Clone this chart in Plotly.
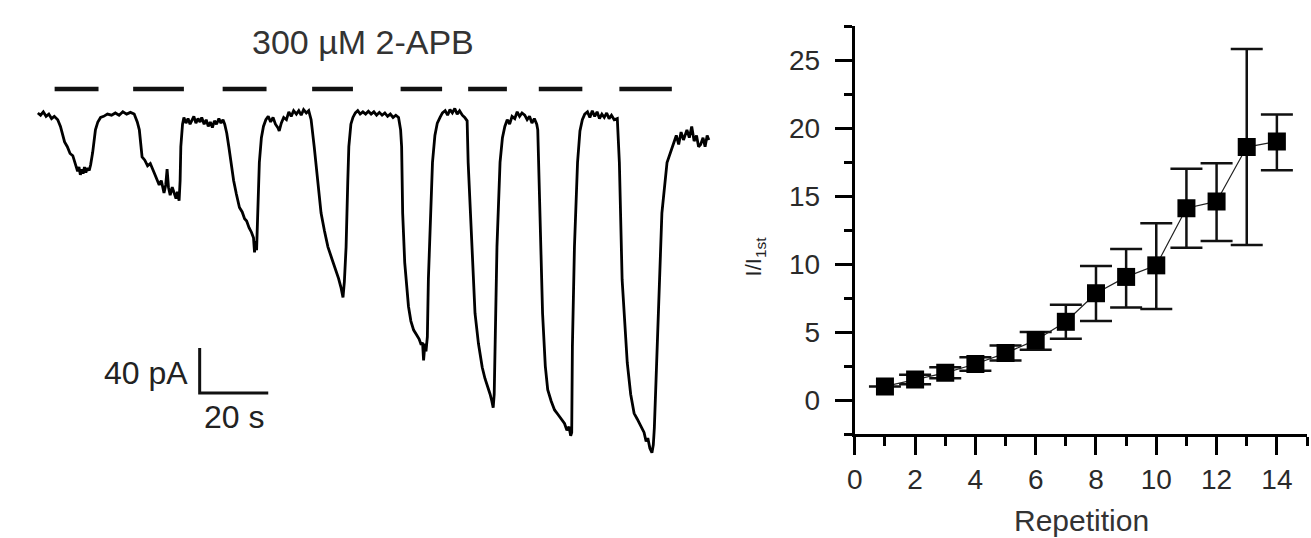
import plotly.graph_objects as go

# ---------------- Left panel: current trace (time in s, current in pA) ----------------
trace_t = [0, 0.8, 1.6, 2.4, 3.2, 4.0, 4.8, 5.8,
           6.6, 7.8, 8.6, 9.4, 10.2, 10.7, 11.2, 11.6, 12.0, 12.4, 12.8, 13.2, 13.6, 14.0, 14.5, 15.0, 15.4,
           16.0, 16.8, 17.5, 18.3, 19.2, 20.3, 21.5, 22.6, 23.7, 24.8, 25.9, 27.0, 28.1,
           29.0, 29.6, 30.4, 31.2, 32.0, 32.8, 33.9, 34.6, 35.4, 36.0, 36.8, 37.3, 37.7, 38.1, 38.6,
           39.2, 39.7, 40.3, 40.7, 41.2, 41.5, 41.7, 42.2, 42.6,
           43.2, 43.8, 44.4, 44.9, 45.5, 46.1, 46.7, 47.3, 47.8, 48.5, 49.1, 49.7, 50.3, 50.9, 51.5,
           52.1, 52.8, 53.4, 54.0, 54.5,
           55.1, 55.7, 57.1, 57.9, 58.8, 59.6, 60.3, 60.9, 61.6, 62.3, 62.9, 63.2, 63.5, 63.8, 64.1,
           64.6, 65.2, 65.8, 66.5, 67.2,
           67.9, 68.6, 69.3, 70.0, 70.4, 71.0, 71.7, 72.5, 73.2, 73.9, 74.6, 75.4, 76.1, 76.8, 77.5,
           78.3, 79.0, 79.7,
           80.6, 81.7, 82.6, 83.6, 84.6, 85.8, 87.0, 87.7, 88.4, 88.8, 89.0, 89.4, 89.9, 90.4, 90.7,
           91.3, 91.9,
           92.6, 93.3, 94.0, 94.8, 95.6, 96.4, 97.2, 98.0, 98.8, 99.6, 100.4, 101.2, 102.0, 102.8,
           103.6, 104.4, 105.2,
           105.8, 106.1, 106.4, 107.0, 108.1, 108.8, 109.6, 110.4, 111.2, 111.8, 112.2, 112.5, 112.9,
           113.2, 113.6, 113.9, 114.5, 115.1, 115.8, 116.5, 117.3, 118.0, 118.8,
           119.5, 120.2, 120.9, 121.6, 122.3, 123.0, 123.8, 124.5, 125.2,
           125.5, 126.7, 127.5, 128.5, 129.6, 130.4, 131.3, 131.9, 132.4, 132.8, 133.1, 133.3, 133.9,
           134.8, 135.5, 136.2, 136.9, 137.6, 138.3, 139.1, 139.8, 140.5, 141.2, 142.0, 142.7, 143.4,
           144.1, 144.8, 145.5,
           145.8, 146.4, 147.2, 148.0, 148.7, 149.7, 150.7, 151.7, 152.6, 153.6, 154.3, 154.9, 155.4,
           155.7, 155.9, 156.5, 157.4, 158.1, 158.8, 159.5, 160.3, 161.0, 161.7, 162.4, 163.1, 163.8,
           164.5, 165.2, 165.9, 166.6, 167.3, 168.1, 169.0,
           169.6, 170.4, 171.9, 172.9, 173.9, 174.8, 175.8, 176.8, 177.4, 177.9, 178.5, 179.1, 179.5,
           179.8, 180.3, 181.2, 182.0, 183.5, 184.5, 185.5, 186.2, 186.9, 187.6, 188.3, 189.3, 190.0,
           190.7, 191.4, 192.1, 192.7, 193.3, 194.0, 194.6, 195.2, 195.7]
trace_i = [0, -2, 1, -3, -1, -5, -3, -6,
           -12, -25.8, -30, -36, -38, -43, -47, -52, -48, -55, -50, -54, -48, -53, -49, -51, -46,
           -35, -15, -8, -4, -3, -1, -2, 0, -2, 1, -1, 0.5, -1,
           -8, -15, -39, -42, -47, -45, -53, -58, -64, -60, -71, -64, -50, -66, -73,
           -66, -70, -76, -70, -78, -60, -30, -10, -4,
           -9, -5, -10, -7, -3, -9, -5, -8, -4, -10, -6, -12, -8, -13, -7,
           -10, -5, -9, -6, -10,
           -18, -30, -60, -72, -84, -88, -94, -96, -102, -106, -111, -124, -114, -122, -89,
           -44, -22, -12, -6, -3,
           -8, -4, -10, -13, -16, -9, -4, -6, 1, -3, 2, -1, 2, -2, 3,
           0, 2, -6,
           -30, -60, -89, -105, -119, -130, -140, -147, -155, -160, -164, -150, -119, -60, -30,
           -10, -4,
           0, 2, -1, 1, -1, 1.5, -1, 1, -2, 0.5, -2, 0, -3, -1,
           -4, -2, -4,
           -15, -30, -89, -133, -172, -185, -193, -197, -201, -206, -204, -220, -205,
           -212, -199, -148, -89, -44, -20, -9, -4, 0, 2,
           -2, 3, 0, 4, -1, 2, -2, -4, -7,
           -44, -119, -178, -205, -226, -236, -244, -250, -256, -262, -250, -208, -119,
           -44, -22, -12, -6, -10, -3, -5, 1, -3, 0, -2, -6, -3,
           -9, -5, -10,
           -15, -89, -178, -225, -246, -256, -264, -268, -272, -276, -282, -279, -287,
           -284, -208, -119, -44, -16, -6, -1, 1, -4, 2, -3, 1, -5,
           -1, -4, 0, -5, -2, -6, -5,
           -44, -148, -222, -250, -267, -272, -278, -284, -292, -289, -298, -302, -295,
           -280, -237, -148, -89, -44, -35, -27, -20, -28, -17, -24, -15, -22,
           -12, -25, -20, -30, -28, -22, -30, -20, -24]

# 2-APB application periods (s)
app_start = [4.9, 27.8, 53.9, 80.0, 105.8, 125.5, 146.1, 169.6]
app_end = [17.7, 42.6, 66.7, 91.9, 117.9, 136.8, 158.8, 184.9]
app_level = 21.3  # pA, drawing level of the bars

# scale bar (s, pA)
scale_t0, scale_len_s = 47.2, 20
scale_i0, scale_len_pa = -249.0, 40

# ---------------- Right panel: normalized current vs repetition ----------------
repetition = list(range(1, 15))
ratio = [1.0, 1.5, 2.0, 2.65, 3.45, 4.4, 5.75, 7.85, 9.05, 9.9, 14.1, 14.6, 18.6, 19.0]
err_plus = [0.0, 0.35, 0.4, 0.5, 0.55, 0.6, 1.25, 2.0, 2.05, 3.1, 2.9, 2.8, 7.2, 2.0]
err_minus = [0.0, 0.35, 0.4, 0.5, 0.55, 0.7, 1.25, 2.05, 2.25, 3.2, 2.9, 2.9, 7.2, 2.1]

FONT = "Liberation Sans, Arial, sans-serif"
W, H = 1311, 538

fig = go.Figure()

# trace
fig.add_trace(go.Scatter(x=trace_t, y=trace_i, mode="lines",
                         line=dict(color="black", width=2.8), xaxis="x", yaxis="y",
                         hoverinfo="skip"))

# application bars
bx, by = [], []
for s, e in zip(app_start, app_end):
    bx += [s, e, None]
    by += [app_level, app_level, None]
fig.add_trace(go.Scatter(x=bx, y=by, mode="lines", line=dict(color="#111", width=4.5),
                         xaxis="x", yaxis="y", hoverinfo="skip"))

# scale bar
fig.add_trace(go.Scatter(x=[scale_t0, scale_t0, scale_t0 + scale_len_s],
                         y=[scale_i0 + scale_len_pa, scale_i0, scale_i0],
                         mode="lines", line=dict(color="#111", width=3),
                         xaxis="x", yaxis="y", hoverinfo="skip"))

# right scatter
fig.add_trace(go.Scatter(x=repetition, y=ratio, mode="lines+markers",
                         line=dict(color="#222", width=1.2),
                         marker=dict(symbol="square", size=18, color="black"),
                         error_y=dict(type="data", array=err_plus, arrayminus=err_minus,
                                      color="#111", thickness=2.5, width=16, visible=True),
                         xaxis="x2", yaxis="y2"))

fig.update_layout(
    width=W, height=H, margin=dict(l=0, r=0, t=0, b=0),
    paper_bgcolor="white", plot_bgcolor="white", showlegend=False,
    font=dict(family=FONT, color="#2a2a2a"),
    xaxis=dict(domain=[0, 720 / W], range=[-8.7, 200.0], visible=False, fixedrange=True),
    yaxis=dict(domain=[0, 1], range=[-377.8, 100.4], visible=False, fixedrange=True),
    xaxis2=dict(domain=[852 / W, 1307 / W], range=[0, 15], anchor="y2",
                showline=True, linewidth=3, linecolor="black", showgrid=False, zeroline=False,
                ticks="outside", ticklen=18, tickwidth=3, tickcolor="black",
                tickmode="linear", tick0=0, dtick=2,
                minor=dict(dtick=1, ticklen=9, tickwidth=3, tickcolor="black", ticks="outside"),
                tickfont=dict(size=28, color="#2a2a2a"), ticklabelstandoff=0),
    yaxis2=dict(domain=[1 - 434 / H, 1 - 26 / H], range=[-2.5, 27.5], anchor="x2",
                showline=True, linewidth=3, linecolor="black", showgrid=False, zeroline=False,
                ticks="outside", ticklen=17, tickwidth=3, tickcolor="black",
                tickmode="linear", tick0=0, dtick=5,
                minor=dict(dtick=2.5, ticklen=8, tickwidth=3, tickcolor="black", ticks="outside"),
                tickfont=dict(size=28, color="#2a2a2a"), ticklabelstandoff=9),
    annotations=[
        dict(text="300 \u00b5M 2-APB", x=94.8, y=63, xref="x", yref="y", showarrow=False,
             xanchor="center", yanchor="middle", font=dict(size=34, color="#333")),
        dict(text="40 pA", x=44.3, y=-231, xref="x", yref="y", showarrow=False,
             xanchor="right", yanchor="middle", font=dict(size=32, color="#222")),
        dict(text="20 s", x=57.1, y=-270, xref="x", yref="y", showarrow=False,
             xanchor="center", yanchor="middle", font=dict(size=32, color="#222")),
        dict(text="I/I<sub>1st</sub>", x=752 / W, y=1 - 256 / H, xref="paper", yref="paper",
             showarrow=False, textangle=-90, xanchor="center", yanchor="middle",
             font=dict(size=22, color="#222")),
        dict(text="Repetition", x=1080 / W, y=1 - 520 / H, xref="paper", yref="paper",
             showarrow=False, xanchor="center", yanchor="middle",
             font=dict(size=30, color="#333")),
    ],
)

fig.write_html("out.html", post_script="document.body.style.margin='0';",
               config={"displayModeBar": False})
